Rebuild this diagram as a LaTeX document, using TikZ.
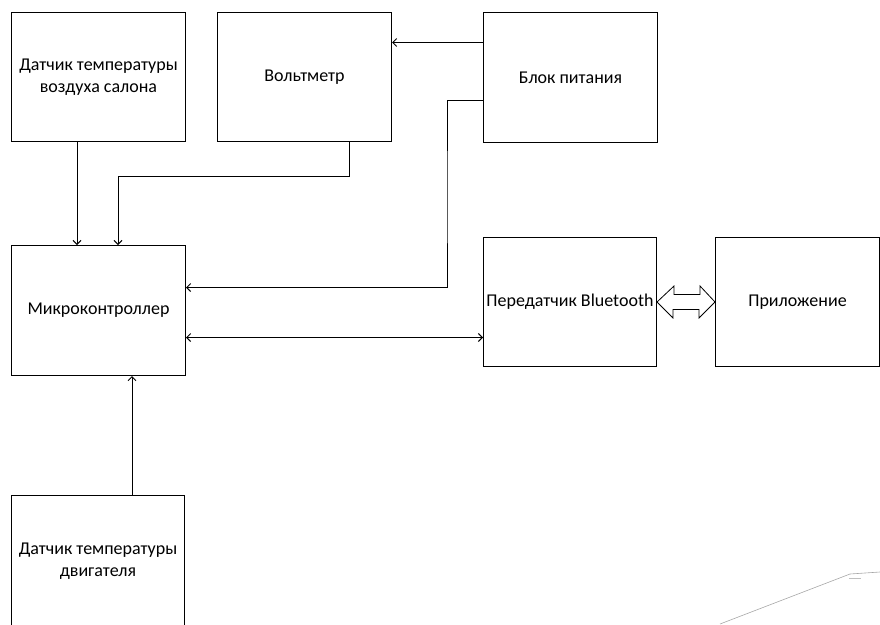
\documentclass[tikz,border=0pt]{standalone}
\usepackage{fontspec}
\setmainfont{Carlito}
\usetikzlibrary{arrows.meta}
\begin{document}
\begin{tikzpicture}[x=1pt,y=-1pt]
\tikzstyle{every node}+=[inner sep=0pt]
\tikzstyle{block}=[draw=black, line width=1pt, anchor=north west, minimum width=174pt, minimum height=129pt, align=center, font=\fontsize{18}{21.5}\selectfont]
\tikzstyle{wire}=[black, line width=1pt, -{Straight Barb[length=4pt,width=8pt]}]
\useasboundingbox (0,0) rectangle (880,624);
\node [block] (air) at (11,12) {Датчик температуры\\воздуха салона};
\node [block] (volt) at (217,12) {Вольтметр};
\node [block, minimum height=130pt] (power) at (483,12) {Блок питания};
\node [block, minimum height=130pt] (mcu) at (11,245) {Микроконтроллер};
\node [block, minimum width=173pt] (bt) at (483,237) {Передатчик Bluetooth};
\node [block, minimum width=164pt] (app) at (715,237) {Приложение};
\node [block, minimum width=173pt, minimum height=131pt] (eng) at (11,495) {Датчик температуры\\двигателя};
\coordinate (vbend) at (118,176);
\coordinate (pdrop) at (447,200);
\draw [wire] ([xshift=66pt]air.south west) -- ([xshift=66pt]mcu.north west);
\draw [wire] ([xshift=132pt]volt.south west) |- (vbend) -- ([xshift=107pt]mcu.north west);
\draw [wire] ([yshift=35pt]power.west) -- ([yshift=35pt]power.west -| volt.east);
\draw [wire] ([yshift=-23pt]power.west) -| (pdrop) |- ([yshift=23pt]mcu.east);
\draw [wire, {Straight Barb[length=4pt,width=8pt]}-{Straight Barb[length=4pt,width=8pt]}] ([yshift=-27pt]mcu.east) -- ([yshift=-27pt]mcu.east -| bt.west);
\draw [wire] ([xshift=121pt]eng.north west) -- ([xshift=121pt]mcu.south west);
\draw [black, line width=0.8pt] (bt.east) -- ++(17,-16) -- ++(0,8.5) -- ++(26,0) -- ++(0,-8.5) -- (app.west) -- ++(-16,16) -- ++(0,-8.5) -- ++(-26,0) -- ++(0,8.5) -- cycle;
\draw [gray!70, line width=0.6pt] (720,624) -- (850,574) -- (880,572);
\draw [gray!50, line width=0.8pt] (849,578) -- (861,578);
\end{tikzpicture}
\end{document}
